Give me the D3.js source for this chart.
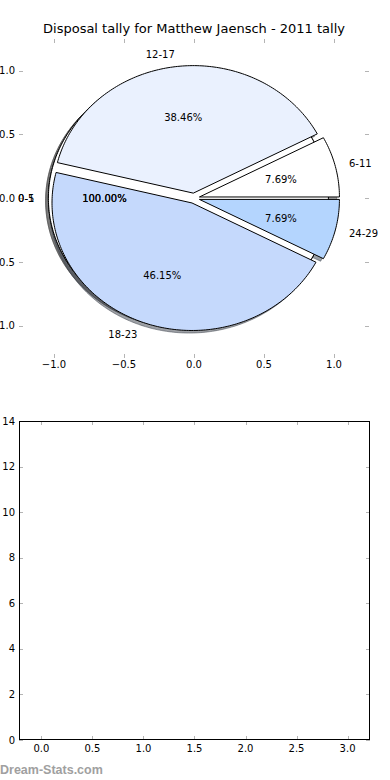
<!DOCTYPE html>
<html><head><meta charset="utf-8">
<script src="https://cdn.jsdelivr.net/npm/d3@7"></script>
<style>body{margin:0;background:#fff}svg{display:block;font-family:"DejaVu Sans",sans-serif}</style>
</head><body><svg id="c" width="390" height="780"></svg>
<script>
// ---- data ----
const categories = ["6-11", "12-17", "18-23", "24-29"];
const tallies = [1, 5, 6, 1];
const carryLabels = ["0-5", "0-1"];      // single-slice pies drawn underneath
const carryValues = [1, 1];
const pieTicks = [-1, -0.5, 0, 0.5, 1];
const barXTicks = [0, 0.5, 1, 1.5, 2, 2.5, 3];
const barYTicks = [0, 2, 4, 6, 8, 10, 12, 14];
const titleText = "Disposal tally for Matthew Jaensch - 2011 tally";
const watermarkText = "Dream-Stats.com";

// ---- styles ----
const sliceColors = ["#ffffff", "#eaf1fe", "#c5d9fc", "#b4d5fe"];
const carryColor = "#ffffff";
const explodeMain = 0.04;
const explodeCarry = 0.04;
const tickColor = "#b4b4b4";

const svg = d3.select("#c");
const fmtNum = v => d3.format(".1f")(v).replace("-", "\u2212");

// ---- pie axes ----
const P = {l: 19, r: 369, t: 38.8, b: 357.6};
const xs = d3.scaleLinear().domain([-1.25, 1.25]).range([P.l, P.r]);
const ys = d3.scaleLinear().domain([-1.25, 1.25]).range([P.b, P.t]);

function pieSpecs(values, labels, colors, explode) {
  const total = d3.sum(values);
  let a = 0;
  return values.map((v, i) => {
    const t1 = a, t2 = a + v / total;
    a = t2;
    const tm = Math.PI * (t1 + t2);
    const cx = explode * Math.cos(tm), cy = explode * Math.sin(tm);
    return {t1: t1 * 2 * Math.PI, t2: t2 * 2 * Math.PI, tm, cx, cy,
            label: labels[i], color: colors[i % colors.length],
            pct: d3.format(".2f")(v / total * 100) + "%"};
  });
}
const lineGen = d3.line().x(d => xs(d[0])).y(d => ys(d[1]));
function wedgePoints(w) {
  const full = Math.abs(w.t2 - w.t1 - 2 * Math.PI) < 1e-9;
  const n = Math.max(2, Math.ceil((w.t2 - w.t1) / (Math.PI / 180)));
  const pts = [];
  if (!full) pts.push([w.cx, w.cy]);
  for (let k = 0; k <= n; k++) {
    const t = w.t1 + (w.t2 - w.t1) * k / n;
    pts.push([w.cx + Math.cos(t), w.cy + Math.sin(t)]);
  }
  return pts;
}

const carryPies = carryLabels.map((lab, i) => pieSpecs([carryValues[i]], [lab], [carryColor], explodeCarry));
const mainPie = pieSpecs(tallies, categories, sliceColors, explodeMain);
const allWedges = [...carryPies.flat(), ...mainPie];

// shadows (drawn beneath all wedges)
const sdx = xs(-0.02) - xs(0), sdy = ys(-0.02) - ys(0);
const gShadow = svg.append("g").attr("transform", `translate(${sdx},${sdy})`);
allWedges.forEach(w => {
  const c = d3.rgb(w.color);
  const sc = d3.rgb(c.r * 0.3, c.g * 0.3, c.b * 0.3);
  gShadow.append("path").attr("d", lineGen(wedgePoints(w)) + "Z")
    .attr("fill", sc).attr("fill-opacity", 0.5)
    .attr("stroke", sc).attr("stroke-opacity", 0.5).attr("stroke-width", 1);
});
// wedges
const gW = svg.append("g");
allWedges.forEach(w => {
  gW.append("path").attr("d", lineGen(wedgePoints(w)) + "Z")
    .attr("fill", w.color).attr("stroke", "#000").attr("stroke-width", 1)
    .attr("stroke-linejoin", "miter");
});

// pie axis ticks
const gT = svg.append("g").attr("stroke", tickColor).attr("shape-rendering", "crispEdges");
pieTicks.forEach(v => {
  const x = Math.round(xs(v)) + 0.5, y = Math.round(ys(v)) + 0.5;
  gT.append("line").attr("x1", x).attr("x2", x).attr("y1", P.t).attr("y2", P.t + 4);
  gT.append("line").attr("x1", x).attr("x2", x).attr("y1", P.b).attr("y2", P.b - 4);
  gT.append("line").attr("x1", P.l).attr("x2", P.l + 4).attr("y1", y).attr("y2", y);
  gT.append("line").attr("x1", P.r).attr("x2", P.r - 4).attr("y1", y).attr("y2", y);
});

// texts
const gTx = svg.append("g").attr("font-size", 10).attr("fill", "#000");
pieTicks.forEach(v => {
  gTx.append("text").attr("x", xs(v)).attr("y", P.b + 10).attr("text-anchor", "middle").text(fmtNum(v));
  gTx.append("text").attr("x", P.l - 4).attr("y", ys(v) + 3.6).attr("text-anchor", "end").text(fmtNum(v));
});
allWedges.forEach(w => {
  const lx = w.cx + 1.1 * Math.cos(w.tm), ly = w.cy + 1.1 * Math.sin(w.tm);
  gTx.append("text").attr("x", xs(lx)).attr("y", ys(ly) + 4)
    .attr("text-anchor", lx > 0 ? "start" : "end").text(w.label);
  const px = w.cx + 0.6 * Math.cos(w.tm), py = w.cy + 0.6 * Math.sin(w.tm);
  gTx.append("text").attr("x", xs(px)).attr("y", ys(py) + 4)
    .attr("text-anchor", "middle").text(w.pct);
});
svg.append("text").attr("x", (P.l + P.r) / 2).attr("y", 33).attr("text-anchor", "middle")
  .attr("font-size", 13).text(titleText);

// ---- bar axes (empty) ----
const B = {l: 19, r: 370, t: 421, b: 740};
const bx = d3.scaleLinear().domain([-0.22, 3.22]).range([B.l, B.r]);
const by = d3.scaleLinear().domain([0, 14]).range([B.b, B.t]);
const gB = svg.append("g").attr("stroke", tickColor).attr("shape-rendering", "crispEdges");
barXTicks.forEach(v => {
  const x = Math.round(bx(v)) + 0.5;
  gB.append("line").attr("x1", x).attr("x2", x).attr("y1", B.t).attr("y2", B.t + 4);
  gB.append("line").attr("x1", x).attr("x2", x).attr("y1", B.b).attr("y2", B.b - 4);
});
barYTicks.forEach(v => {
  const y = Math.round(by(v)) + 0.5;
  gB.append("line").attr("x1", B.l).attr("x2", B.l + 4).attr("y1", y).attr("y2", y);
  gB.append("line").attr("x1", B.r).attr("x2", B.r - 4).attr("y1", y).attr("y2", y);
});
svg.append("rect").attr("x", B.l + 0.5).attr("y", B.t + 0.5)
  .attr("width", B.r - B.l - 1).attr("height", B.b - B.t - 1)
  .attr("fill", "none").attr("stroke", "#000").attr("shape-rendering", "crispEdges");
const gBt = svg.append("g").attr("font-size", 10).attr("fill", "#000");
barXTicks.forEach(v => {
  gBt.append("text").attr("x", bx(v)).attr("y", B.b + 12).attr("text-anchor", "middle").text(fmtNum(v));
});
barYTicks.forEach(v => {
  gBt.append("text").attr("x", B.l - 4).attr("y", by(v) + 3.6).attr("text-anchor", "end").text(String(v));
});

// watermark
svg.append("text").attr("x", 0).attr("y", 774)
  .attr("font-family", "'Liberation Sans', Arial, sans-serif").attr("font-weight", "bold")
  .attr("font-size", 12.5).attr("fill", "#a0a0a0").text(watermarkText);
</script>
</body></html>
